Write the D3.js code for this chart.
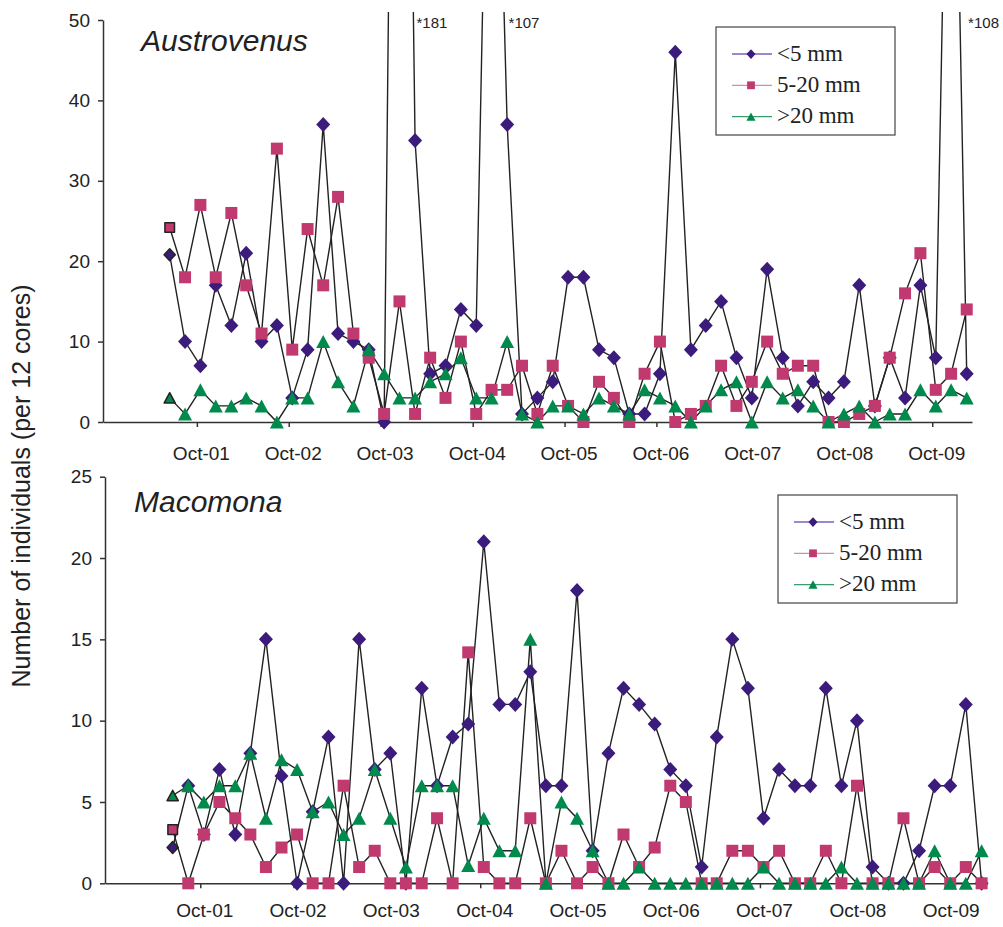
<!DOCTYPE html>
<html>
<head>
<meta charset="utf-8">
<script src="https://cdn.jsdelivr.net/npm/d3@7"></script>
<style>
body { margin: 0; background: #fff; }
text { font-family: "Liberation Sans", Arial, sans-serif; fill: #222; }
</style>
</head>
<body>
<svg id="chart" width="1003" height="927"></svg>
<script>
// sampling dates (bimonthly)
var dates = [
  "2001-06-15","2001-08-15","2001-10-15","2001-12-15",
  "2002-02-15","2002-04-15","2002-06-15","2002-08-15","2002-10-15","2002-12-15",
  "2003-02-15","2003-04-15","2003-06-15","2003-08-15","2003-10-15","2003-12-15",
  "2004-02-15","2004-04-15","2004-06-15","2004-08-15","2004-10-15","2004-12-15",
  "2005-02-15","2005-04-15","2005-06-15","2005-08-15","2005-10-15","2005-12-15",
  "2006-02-15","2006-04-15","2006-06-15","2006-08-15","2006-10-15","2006-12-15",
  "2007-02-15","2007-04-15","2007-06-15","2007-08-15","2007-10-15","2007-12-15",
  "2008-02-15","2008-04-15","2008-06-15","2008-08-15","2008-10-15","2008-12-15",
  "2009-02-15","2009-04-15","2009-06-15","2009-08-15","2009-10-15","2009-12-15",
  "2010-02-15"
]

var tickLabels = ["Oct-01","Oct-02","Oct-03","Oct-04","Oct-05","Oct-06","Oct-07","Oct-08","Oct-09"]
var seriesNames = ["<5 mm", "5-20 mm", ">20 mm"]

// Austrovenus
var austro_small = [20.8,10,7,17,12,21,10,12,3,9,37,11,10,9,0,181,35,6,7,14,12,107,37,1,3,5,18,18,9,8,1,1,6,46,9,12,15,8,3,19,8,2,5,3,5,17,2,8,3,17,8,108,6]
var austro_mid = [24.2,18,27,18,26,17,11,34,9,24,17,28,11,8,1,15,1,8,3,10,1,4,4,7,1,7,2,0,5,3,0,6,10,0,1,2,7,2,5,10,6,7,7,0,0,1,2,8,16,21,4,6,14]
var austro_large = [3,1,4,2,2,3,2,0,3,3,10,5,2,9,6,3,3,5,6,8,3,3,10,1,0,2,2,1,3,2,1,4,3,2,0,2,4,5,0,5,3,4,2,0,1,2,0,1,1,4,2,4,3]

// Macomona
var maco_small = [2.2,6,3,7,3,8,15,6.6,0,4.4,9,0,15,7,8,0,12,6,9,9.8,21,11,11,13,6,6,18,2,8,12,11,9.8,7,6,1,9,15,12,4,7,6,6,12,6,10,1,0,0,2,6,6,11,0]
var maco_mid = [3.3,0,3,5,4,3,1,2.2,3,0,0,6,1,2,0,0,0,4,0,14.2,1,0,0,4,0,2,0,1,0,3,1,2.2,6,5,0,0,2,2,1,2,0,0,2,0,6,0,0,4,0,1,0,1,0]
var maco_large = [5.4,6,5,6,6,8,4,7.6,7,4.4,5,3,4,7,4,1,6,6,6,1.1,4,2,2,15,0,5,4,2,0,0,1,0,0,0,0,0,0,0,1,0,0,0,0,1,0,0,0,0,0,2,0,0,2]

var markerColor = ["#3b1b7b", "#c03a70", "#008a4b"]
var legendLine = ["#7b62b9", "#d98aab", "#3a9c6c"]
var markerType = ["diamond", "square", "triangle"]

var svg = d3.select("#chart")
var parseDate = d3.timeParse("%Y-%m-%d")
var parseTick = d3.timeParse("%b-%y")
var dateVals = dates.map(parseDate)
var tickDates = tickLabels.map(parseTick)

function markerPath(type, s) {
  if (type == "diamond") return "M0," + (-7.5*s) + "L" + (7*s) + ",0L0," + (7.5*s) + "L" + (-7*s) + ",0Z"
  if (type == "square") return "M" + (-6*s) + "," + (-6*s) + "h" + (12*s) + "v" + (12*s) + "h" + (-12*s) + "Z"
  return "M0," + (-6.5*s) + "L" + (7*s) + "," + (6.5*s) + "L" + (-7*s) + "," + (6.5*s) + "Z"
}

var panels = [
  { name: "Austrovenus", series: [austro_small, austro_mid, austro_large], ymax: 50, step: 10,
    top: 20, bottom: 422, left: 103, right: 972, titleX: 141, titleY: 51,
    legX: 716, legY: 27, labelPad: 19.5, clip: 12 },
  { name: "Macomona", series: [maco_small, maco_mid, maco_large], ymax: 25, step: 5,
    top: 476.7, bottom: 883.3, left: 105, right: 987, titleX: 134, titleY: 512,
    legX: 778, legY: 495, labelPad: 15.5, clip: 460 }
]

panels.forEach(function(p, pi) {

  var x = d3.scaleTime()
    .domain([new Date(2000, 8, 23), new Date(2010, 2, 8)])
    .range([p.left, p.right])

  var y = d3.scaleLinear()
    .domain([0, p.ymax])
    .range([p.bottom, p.top])

  var g = svg.append("g")

  // axes
  var yAxis = g.append("g")
    .attr("transform", "translate(" + p.left + ",0)")
    .call(d3.axisLeft(y).tickValues(d3.range(0, p.ymax + 1, p.step)).tickSize(5).tickSizeOuter(0).tickPadding(8))
  var xAxis = g.append("g")
    .attr("transform", "translate(0," + p.bottom + ")")
    .call(d3.axisBottom(x).tickValues(tickDates).tickFormat((d, i) => tickLabels[i]).tickSize(5).tickSizeOuter(0).tickPadding(p.labelPad))
  xAxis.selectAll("text").attr("dx", 4)

  g.selectAll(".domain, .tick line").attr("stroke", "#333").attr("stroke-width", 1.5)
  g.selectAll(".tick text").style("font-size", "19px").style("fill", "#222")
    .attr("font-family", null)

  // clip for spikes
  svg.append("clipPath").attr("id", "clip" + pi)
    .append("rect")
    .attr("x", p.left - 10).attr("y", p.clip)
    .attr("width", p.right - p.left + 30).attr("height", p.bottom - p.clip + 20)

  var line = d3.line()
    .x((d, i) => x(dateVals[i]))
    .y(d => y(d))

  p.series.forEach(function(vals, si) {
    g.append("path")
      .datum(vals)
      .attr("clip-path", "url(#clip" + pi + ")")
      .attr("fill", "none")
      .attr("stroke", "#222")
      .attr("stroke-width", 1.4)
      .attr("d", line)
  })

  p.series.forEach(function(vals, si) {
    g.selectAll(".m" + si)
      .data(vals.map((v, i) => ({v: v, i: i})).filter(d => d.v <= p.ymax))
      .enter().append("path")
      .attr("class", "m" + si)
      .attr("transform", d => "translate(" + x(dateVals[d.i]) + "," + y(d.v) + ")")
      .attr("d", d => markerPath(markerType[si], d.i == 0 ? 0.8 : 1))
      .attr("fill", markerColor[si])
      .attr("stroke", d => d.i == 0 ? "#222" : "none")
      .attr("stroke-width", 1.5)
      .attr("stroke-linejoin", "round")
  })

  // off-scale values
  p.series.forEach(function(vals, si) {
    vals.forEach(function(v, i) {
      if (v > p.ymax) {
        g.append("text")
          .attr("x", x(dateVals[i]) + 17)
          .attr("y", 28)
          .style("font-size", "15px")
          .text("*" + v)
      }
    })
  })

  // title
  g.append("text")
    .attr("x", p.titleX)
    .attr("y", p.titleY)
    .style("font-size", "30px")
    .style("font-style", "italic")
    .text(p.name)

  // legend
  var leg = g.append("g").attr("transform", "translate(" + p.legX + "," + p.legY + ")")
  leg.append("rect")
    .attr("width", 179).attr("height", 108)
    .attr("fill", "#fff").attr("stroke", "#444").attr("stroke-width", 1.2)

  seriesNames.forEach(function(name, si) {
    var ly = 27 + 31.3 * si
    leg.append("line")
      .attr("x1", 16).attr("x2", 56).attr("y1", ly).attr("y2", ly)
      .attr("stroke", legendLine[si]).attr("stroke-width", 1.3)
    leg.append("path")
      .attr("transform", "translate(35," + ly + ")")
      .attr("d", markerPath(markerType[si], 0.65))
      .attr("fill", markerColor[si])
    leg.append("text")
      .attr("x", 61).attr("y", ly + 6.5)
      .style("font-family", "'Liberation Serif', 'Times New Roman', serif")
      .style("font-size", "23px")
      .text(name)
  })
})

// y-axis title
svg.append("text")
  .attr("transform", "translate(30,486) rotate(-90)")
  .attr("text-anchor", "middle")
  .style("font-size", "25px")
  .text("Number of individuals (per 12 cores)")
</script>
</body>
</html>
